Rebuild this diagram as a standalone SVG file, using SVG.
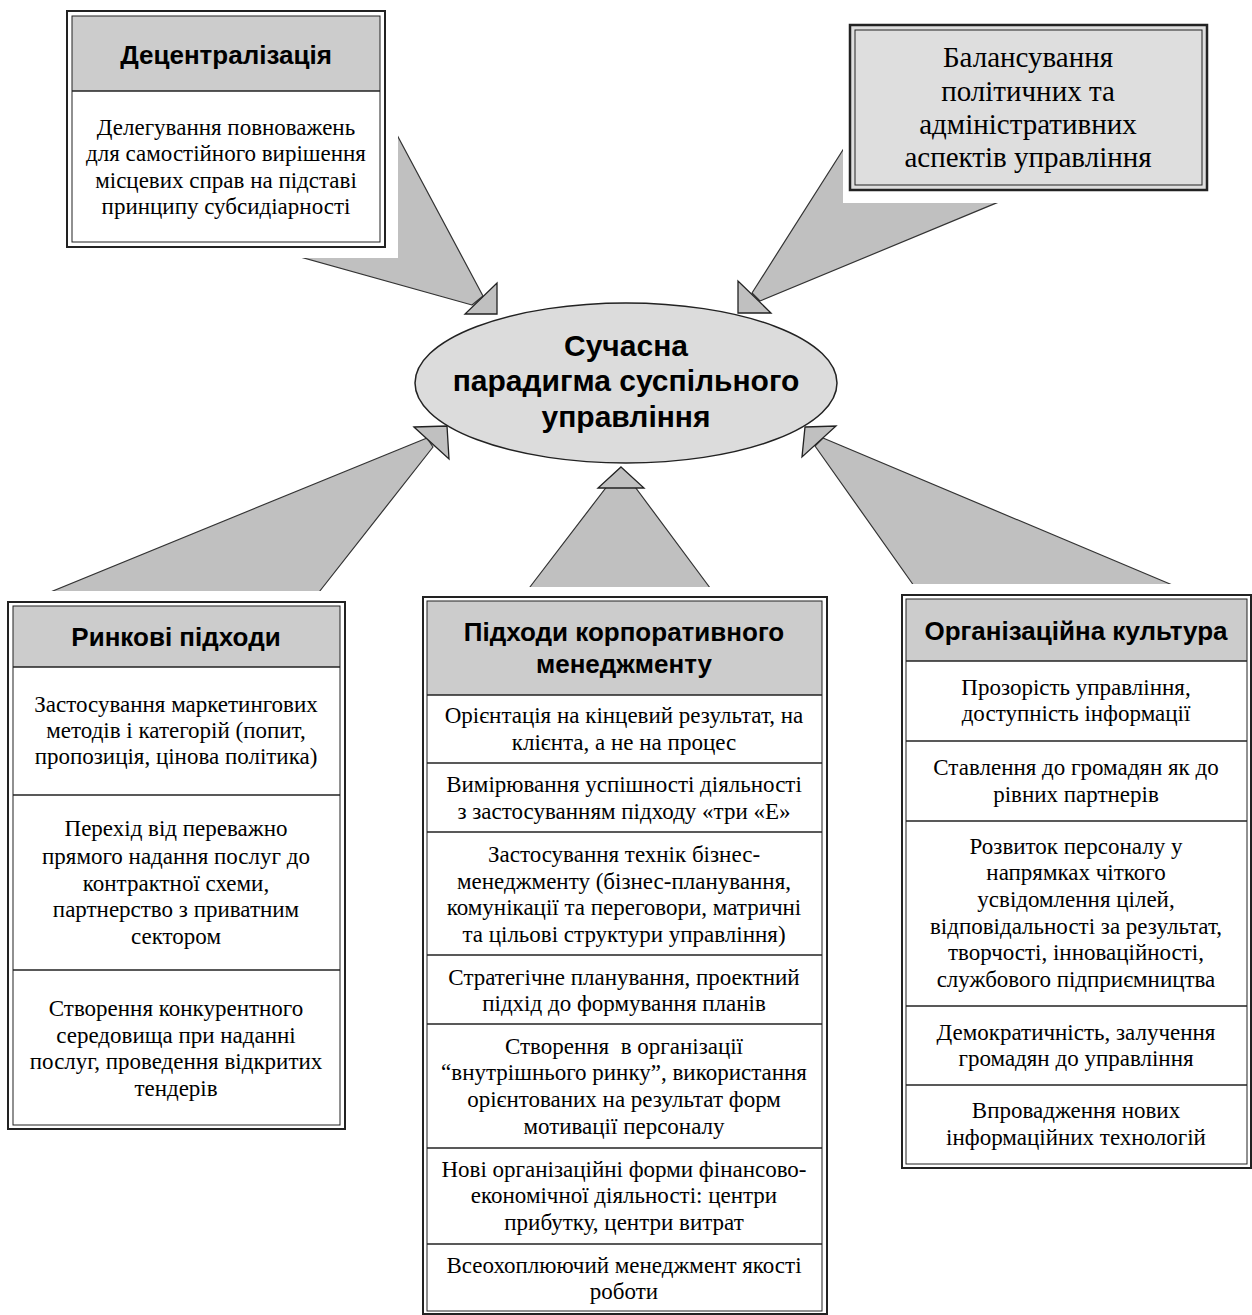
<svg xmlns="http://www.w3.org/2000/svg" width="1252" height="1315" viewBox="0 0 1252 1315">
<style>
.wedge{fill:#c0c0c0;stroke:#333;stroke-width:1.2;stroke-linejoin:round}
.head{fill:#c0c0c0;stroke:#222;stroke-width:1.3}
.wh{fill:#fff}
.bo{fill:#fff;stroke:#222;stroke-width:2}
.bi{fill:none;stroke:#222;stroke-width:1}
.hd{fill:#cccccc}
.dv{stroke:#222;stroke-width:1.6}
.t{font-family:"Liberation Serif","Times New Roman",serif;font-size:23px;text-anchor:middle;fill:#000}
.tb{font-family:"Liberation Serif","Times New Roman",serif;font-size:29px;text-anchor:middle;fill:#000}
.h{font-family:"Liberation Sans",Arial,sans-serif;font-weight:bold;font-size:26px;text-anchor:middle;fill:#000}
.e{font-family:"Liberation Sans",Arial,sans-serif;font-weight:bold;font-size:30px;text-anchor:middle;fill:#000}
</style>
<rect width="1252" height="1315" fill="#fff"/>
<g id="connectors">
  <polygon class="wedge" points="357,60 483,296 472,305 200,229"/>
  <polygon class="wedge" points="881,90 752,293 760,301 1100,160"/>
  <polygon class="wedge" points="-6,615 427,438 433,447 301,615"/>
  <polygon class="wedge" points="520,600 621,468 719,600"/>
  <polygon class="wedge" points="924,600 815,446 823,438 1208,600"/>
  <rect class="wh" x="40" y="0" width="358" height="258"/>
  <rect class="wh" x="843" y="10" width="409" height="193"/>
  <rect class="wh" x="0" y="591" width="360" height="40"/>
  <rect class="wh" x="420" y="587" width="415" height="20"/>
  <rect class="wh" x="880" y="584" width="372" height="20"/>
</g>
<g id="center">
  <ellipse cx="626" cy="383" rx="211" ry="80" fill="#dcdcdc" stroke="#222" stroke-width="1.5"/>
  <text class="e" x="626" y="356">Сучасна</text>
  <text class="e" x="626" y="391">парадигма суспільного</text>
  <text class="e" x="626" y="427">управління</text>
</g>
<g id="arrowheads">
  <polygon class="head" points="497,283 497,314 465,314"/>
  <polygon class="head" points="738,281 738,313 771,313"/>
  <polygon class="head" points="414,427 447,426 449,459"/>
  <polygon class="head" points="621,467 644,488 598,488"/>
  <polygon class="head" points="805,427 836,426 802,457"/>
</g>
<g id="decentralization">
  <rect class="bo" x="67" y="11" width="318" height="236"/>
  <rect class="hd" x="72" y="16" width="308" height="75"/>
  <rect class="bi" x="72" y="16" width="308" height="226"/>
  <line class="dv" x1="72" y1="91" x2="380" y2="91"/>
  <text class="h" x="226" y="64">Децентралізація</text>
  <text class="t" x="226" y="135">Делегування повноважень</text>
  <text class="t" x="226" y="161">для самостійного вирішення</text>
  <text class="t" x="226" y="188">місцевих справ на підставі</text>
  <text class="t" x="226" y="214">принципу субсидіарності</text>
</g>
<g id="balancing">
  <rect x="850" y="25" width="357" height="165" fill="#dedede" stroke="#222" stroke-width="2.5"/>
  <rect class="bi" x="855" y="30" width="347" height="155" stroke-width="1.5"/>
  <text class="tb" x="1028" y="67">Балансування</text>
  <text class="tb" x="1028" y="101">політичних та</text>
  <text class="tb" x="1028" y="134">адміністративних</text>
  <text class="tb" x="1028" y="167">аспектів управління</text>
</g>
<g id="market">
  <rect class="bo" x="8" y="602" width="337" height="527"/>
  <rect class="hd" x="13" y="606" width="327" height="61"/>
  <rect class="bi" x="13" y="606" width="327" height="519"/>
  <line class="dv" x1="13" y1="667" x2="340" y2="667"/>
  <line class="dv" x1="13" y1="795" x2="340" y2="795"/>
  <line class="dv" x1="13" y1="970" x2="340" y2="970"/>
  <text class="h" x="176" y="646">Ринкові підходи</text>
  <text class="t" x="176" y="712">Застосування маркетингових</text>
  <text class="t" x="176" y="738">методів і категорій (попит,</text>
  <text class="t" x="176" y="764">пропозиція, цінова політика)</text>
  <text class="t" x="176" y="836">Перехід від переважно</text>
  <text class="t" x="176" y="864">прямого надання послуг до</text>
  <text class="t" x="176" y="891">контрактної схеми,</text>
  <text class="t" x="176" y="917">партнерство з приватним</text>
  <text class="t" x="176" y="944">сектором</text>
  <text class="t" x="176" y="1016">Створення конкурентного</text>
  <text class="t" x="176" y="1043">середовища при наданні</text>
  <text class="t" x="176" y="1069">послуг, проведення відкритих</text>
  <text class="t" x="176" y="1096">тендерів</text>
</g>
<g id="corporate">
  <rect class="bo" x="423" y="597" width="404" height="717"/>
  <rect class="hd" x="427" y="601" width="395" height="94"/>
  <rect class="bi" x="427" y="601" width="395" height="710"/>
  <line class="dv" x1="427" y1="695" x2="822" y2="695"/>
  <line class="dv" x1="427" y1="763" x2="822" y2="763"/>
  <line class="dv" x1="427" y1="832" x2="822" y2="832"/>
  <line class="dv" x1="427" y1="955" x2="822" y2="955"/>
  <line class="dv" x1="427" y1="1024" x2="822" y2="1024"/>
  <line class="dv" x1="427" y1="1148" x2="822" y2="1148"/>
  <line class="dv" x1="427" y1="1244" x2="822" y2="1244"/>
  <text class="h" x="624" y="641">Підходи корпоративного</text>
  <text class="h" x="624" y="673">менеджменту</text>
  <text class="t" x="624" y="723">Орієнтація на кінцевий результат, на</text>
  <text class="t" x="624" y="750">клієнта, а не на процес</text>
  <text class="t" x="624" y="792">Вимірювання успішності діяльності</text>
  <text class="t" x="624" y="819">з застосуванням підходу «три «Е»</text>
  <text class="t" x="624" y="862">Застосування технік бізнес-</text>
  <text class="t" x="624" y="889">менеджменту (бізнес-планування,</text>
  <text class="t" x="624" y="915">комунікації та переговори, матричні</text>
  <text class="t" x="624" y="942">та цільові структури управління)</text>
  <text class="t" x="624" y="985">Стратегічне планування, проектний</text>
  <text class="t" x="624" y="1011">підхід до формування планів</text>
  <text class="t" x="624" y="1054" xml:space="preserve">Створення  в організації</text>
  <text class="t" x="624" y="1080">“внутрішнього ринку”, використання</text>
  <text class="t" x="624" y="1107">орієнтованих на результат форм</text>
  <text class="t" x="624" y="1134">мотивації персоналу</text>
  <text class="t" x="624" y="1177">Нові організаційні форми фінансово-</text>
  <text class="t" x="624" y="1203">економічної діяльності: центри</text>
  <text class="t" x="624" y="1230">прибутку, центри витрат</text>
  <text class="t" x="624" y="1273">Всеохоплюючий менеджмент якості</text>
  <text class="t" x="624" y="1299">роботи</text>
</g>
<g id="culture">
  <rect class="bo" x="902" y="595" width="349" height="573"/>
  <rect class="hd" x="906" y="599" width="341" height="62"/>
  <rect class="bi" x="906" y="599" width="341" height="565"/>
  <line class="dv" x1="906" y1="661" x2="1247" y2="661"/>
  <line class="dv" x1="906" y1="741" x2="1247" y2="741"/>
  <line class="dv" x1="906" y1="821" x2="1247" y2="821"/>
  <line class="dv" x1="906" y1="1006" x2="1247" y2="1006"/>
  <line class="dv" x1="906" y1="1085" x2="1247" y2="1085"/>
  <text class="h" x="1076" y="640">Організаційна культура</text>
  <text class="t" x="1076" y="695">Прозорість управління,</text>
  <text class="t" x="1076" y="721">доступність інформації</text>
  <text class="t" x="1076" y="775">Ставлення до громадян як до</text>
  <text class="t" x="1076" y="802">рівних партнерів</text>
  <text class="t" x="1076" y="854">Розвиток персоналу у</text>
  <text class="t" x="1076" y="880">напрямках чіткого</text>
  <text class="t" x="1076" y="907">усвідомлення цілей,</text>
  <text class="t" x="1076" y="934">відповідальності за результат,</text>
  <text class="t" x="1076" y="960">творчості, інноваційності,</text>
  <text class="t" x="1076" y="987">службового підприємництва</text>
  <text class="t" x="1076" y="1040">Демократичність, залучення</text>
  <text class="t" x="1076" y="1066">громадян до управління</text>
  <text class="t" x="1076" y="1118">Впровадження нових</text>
  <text class="t" x="1076" y="1145">інформаційних технологій</text>
</g>
</svg>
